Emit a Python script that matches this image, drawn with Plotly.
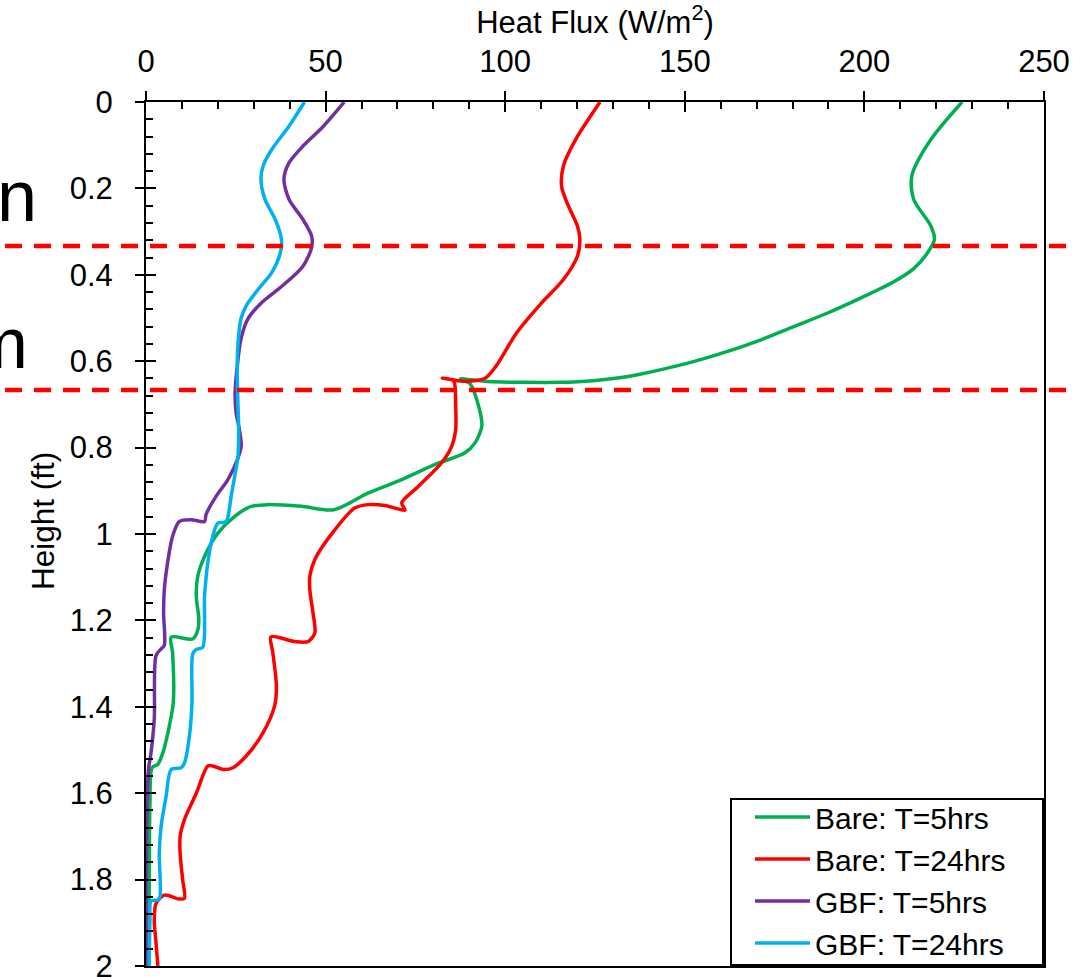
import plotly.graph_objects as go

# Heat flux profiles (W/m^2) against height (ft)
bare5_h = [0, 0.087, 0.171, 0.225, 0.287, 0.318, 0.350, 0.385, 0.416, 0.454, 0.489, 0.520,
           0.551, 0.578, 0.601, 0.620, 0.636, 0.645, 0.649, 0.649, 0.647, 0.641, 0.652, 0.704,
           0.75, 0.789, 0.812, 0.839, 0.874, 0.905, 0.944, 0.936, 0.932, 0.936, 0.959, 0.998,
           1.052, 1.098, 1.144, 1.196, 1.223, 1.243, 1.239, 1.274, 1.39, 1.444, 1.506, 1.533,
           1.541, 1.623, 1.816, 2.0]
bare5_q = [227.2, 218.5, 213.2, 213.7, 218.5, 219.5, 217.5, 213.8, 208.2, 198.9, 189.6, 180.3,
           171, 161.7, 152.4, 143.1, 133.8, 124.5, 115.2, 105, 95, 87.5, 90.2, 92.6,
           93.5, 91.6, 88.8, 80.5, 71.2, 61.9, 52.3, 43.3, 34, 29.3, 24.7, 20,
           16.3, 14.4, 14, 14.7, 14.4, 13, 7, 7.4, 7.6, 6.5, 4.7, 3.3,
           1.7, 1.1, 0.9, 0.7]

bare24_h = [0, 0.087, 0.148, 0.195, 0.233, 0.287, 0.318, 0.357, 0.411, 0.47, 0.534, 0.612,
            0.639, 0.646, 0.645, 0.639, 0.645, 0.704, 0.758, 0.797, 0.835, 0.89, 0.928, 0.945,
            0.94, 0.934, 0.932, 0.94, 0.99, 1.059, 1.098, 1.129, 1.183, 1.229, 1.249, 1.249,
            1.238, 1.274, 1.351, 1.398, 1.46, 1.514, 1.541, 1.545, 1.537, 1.537, 1.6, 1.661,
            1.7, 1.739, 1.8, 1.843, 1.845, 1.836, 1.855, 1.894, 1.948, 2.0]
bare24_q = [126.4, 119.6, 116.2, 115.7, 117.2, 120.1, 120.8, 120.1, 116.2, 109.6, 103.2, 97.4,
            94.5, 90.7, 86.9, 82.5, 85.6, 86.2, 86.2, 85.1, 82.3, 75.8, 71.2, 72.1,
            69.3, 66.5, 61.9, 58.1, 52.6, 47, 45.6, 45.6, 46.5, 47, 45.1, 41.4,
            34.8, 35.3, 36.3, 35.8, 32.6, 27.9, 24.2, 21.4, 18.6, 17.2, 14, 10.7,
            9.5, 9.5, 10.2, 10.7, 9.3, 5.1, 2.8, 2.3, 2.8, 3.3]

gbf5_h = [0, 0.056, 0.102, 0.141, 0.179, 0.225, 0.272, 0.31, 0.337, 0.38, 0.426, 0.465,
          0.503, 0.55, 0.612, 0.673, 0.72, 0.758, 0.797, 0.835, 0.874, 0.913, 0.955, 0.971,
          0.967, 0.971, 1.005, 1.067, 1.129, 1.183, 1.258, 1.266, 1.281, 1.429, 1.506, 1.545,
          1.661, 2.0]
gbf5_q = [55.2, 49.4, 43.7, 39.8, 38.4, 39.8, 43.7, 46.1, 46.1, 43.7, 37.9, 32.1,
          28.3, 26.4, 25.4, 24.8, 25.1, 26.0, 26.5, 25.1, 22.8, 19.5, 16.7, 16.3,
          12.6, 9.3, 7.4, 6, 5.1, 4.9, 5.1, 4.2, 2.8, 2.3, 1.4, 0.7,
          0.2, 0]

gbf24_h = [0, 0.056, 0.11, 0.148, 0.179, 0.225, 0.272, 0.318, 0.349, 0.395, 0.434, 0.473,
           0.503, 0.55, 0.612, 0.7, 0.758, 0.82, 0.866, 0.913, 0.967, 0.973, 0.975, 1.005,
           1.067, 1.144, 1.262, 1.267, 1.278, 1.39, 1.467, 1.53, 1.541, 1.545, 1.607, 1.677,
           1.739, 1.84, 1.847, 1.85, 1.894, 2.0]
gbf24_q = [44.1, 39.8, 35, 32.6, 32, 33.1, 36, 37.7, 37.4, 35, 31.2, 27.8,
           26.4, 25.7, 25.4, 25.6, 25.8, 25.6, 24.7, 23.7, 22.6, 21.9, 20, 18.6,
           17.2, 16.3, 15.8, 14, 13, 12.8, 12.1, 10.7, 9.8, 7, 5.6, 4.2,
           3.7, 3.9, 3.3, 1.4, 1.1, 0.9]

series_names = ["Bare: T=5hrs", "Bare: T=24hrs", "GBF: T=5hrs", "GBF: T=24hrs"]
series_colors = ["#00B050", "#FF0000", "#7030A0", "#00B0F0"]
series_q = [bare5_q, bare24_q, gbf5_q, gbf24_q]
series_h = [bare5_h, bare24_h, gbf5_h, gbf24_h]

# Axis ticks
flux_ticks = [0, 50, 100, 150, 200, 250]
height_ticks = [0, 0.2, 0.4, 0.6, 0.8, 1, 1.2, 1.4, 1.6, 1.8, 2]
height_labels = ["0", "0.2", "0.4", "0.6", "0.8", "1", "1.2", "1.4", "1.6", "1.8", "2"]

# Region boundaries (ft)
boundaries = [1 / 3, 2 / 3]

FONT = "Liberation Sans, Arial, sans-serif"

# plot area in pixels
L, R, T, B = 146, 1044, 102, 966
W, H = 1082, 977


def px_x(p):
    return (p - L) / (R - L)


def px_y(p):
    return 1 - (p - T) / (B - T)


fig = go.Figure()
for name, color, q, h in zip(series_names, series_colors, series_q, series_h):
    fig.add_trace(go.Scatter(
        x=q, y=h, name=name, mode="lines",
        line=dict(color=color, width=3.5, shape="spline", smoothing=0.8),
    ))

# empty trace so the overlay axes (inner half of the major ticks) get drawn
fig.add_trace(go.Scatter(x=[], y=[], xaxis="x2", yaxis="y2", showlegend=False,
                         hoverinfo="skip"))

for b in boundaries:
    fig.add_shape(type="line", xref="paper", yref="y", x0=px_x(5), x1=px_x(1071), y0=b, y1=b,
                  line=dict(color="#FF0000", width=4.5, dash="17px,12px"), layer="above")

# legend frame
fig.add_shape(type="rect", xref="paper", yref="paper",
              x0=px_x(731), x1=px_x(1043), y0=px_y(965), y1=px_y(799),
              line=dict(color="black", width=2), fillcolor="white", layer="below")

tick_font = dict(family=FONT, size=31, color="black")
title_font = dict(family=FONT, size=31, color="black")

fig.update_layout(
    width=W, height=H,
    margin=dict(l=L, r=W - R, t=T, b=H - B, autoexpand=False),
    paper_bgcolor="white", plot_bgcolor="white",
    font=dict(family=FONT, size=30, color="black"),
    showlegend=True,
    legend=dict(
        x=px_x(750), y=px_y(791), xanchor="left", yanchor="top",
        bgcolor="rgba(0,0,0,0)", borderwidth=0,
        font=dict(family=FONT, size=30, color="black"),
        itemwidth=55, tracegroupgap=0,
    ),
    xaxis=dict(
        side="top", range=[0, 250], tickmode="array", tickvals=flux_ticks,
        title=dict(text="Heat Flux (W/m<sup>2</sup>)", font=title_font, standoff=8),
        tickfont=tick_font, ticks="outside", ticklen=9, tickwidth=2, tickcolor="black",
        showline=True, linecolor="black", linewidth=2, mirror=True, automargin=False,
        showgrid=False, zeroline=False, ticklabelstandoff=7, ticklabeloverflow="allow",
    ),
    yaxis=dict(
        range=[2, 0], tickmode="array", tickvals=height_ticks, ticktext=height_labels,
        tickfont=tick_font, ticks="outside", ticklen=9, tickwidth=2, tickcolor="black",
        showline=True, linecolor="black", linewidth=2, mirror=True, automargin=False,
        showgrid=False, zeroline=False, ticklabelstandoff=16, ticklabeloverflow="allow",
    ),
    xaxis2=dict(
        overlaying="x", anchor="y", side="top", range=[0, 250], tickmode="array",
        tickvals=flux_ticks, automargin=False,
        ticks="inside", ticklen=10, tickwidth=2, tickcolor="black",
        minor=dict(ticks="inside", ticklen=7, tickwidth=2, tickcolor="black",
                   tickmode="linear", tick0=0, dtick=10),
        showticklabels=False, showline=False, showgrid=False, zeroline=False,
    ),
    yaxis2=dict(
        overlaying="y", anchor="x", side="left", range=[2, 0], tickmode="array",
        tickvals=height_ticks, automargin=False,
        ticks="inside", ticklen=10, tickwidth=2, tickcolor="black",
        minor=dict(ticks="inside", ticklen=7, tickwidth=2, tickcolor="black",
                   tickmode="linear", tick0=0, dtick=0.04),
        showticklabels=False, showline=False, showgrid=False, zeroline=False,
    ),
)

# vertical axis title
fig.add_annotation(text="Height (ft)", xref="paper", yref="paper", x=px_x(43), y=px_y(521),
                   xanchor="center", yanchor="middle", textangle=-90, showarrow=False,
                   font=dict(family=FONT, size=31.5, color="black"))

# Word endings at the left edge of the canvas
for txt, xr, ym in [("n", px_x(39), px_y(196)), ("m", px_x(30), px_y(343))]:
    fig.add_annotation(text=txt, xref="paper", yref="paper", x=xr, y=ym,
                       xanchor="right", yanchor="middle", showarrow=False,
                       font=dict(family=FONT, size=72, color="black"))

fig.write_html("out.html")
